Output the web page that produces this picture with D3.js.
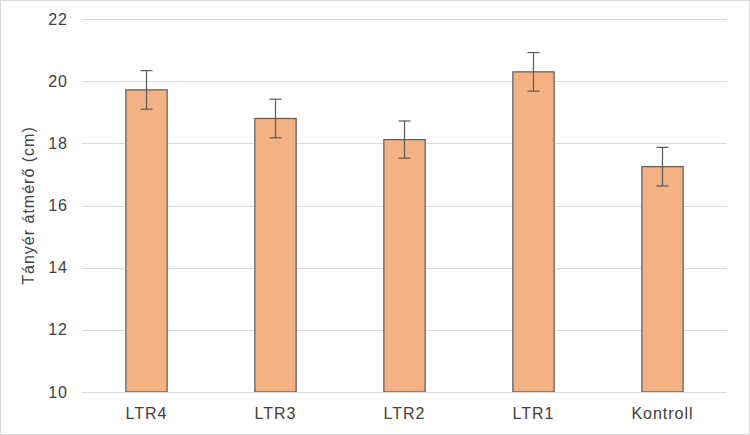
<!DOCTYPE html>
<html><head><meta charset="utf-8">
<script src="https://cdn.jsdelivr.net/npm/d3@7"></script>
<style>body{margin:0;background:#fff;}svg{display:block;font-family:"Liberation Sans",Arial,sans-serif;}</style>
</head><body>
<svg id="c" width="750" height="435"></svg>
<script>
const categories = ["LTR4", "LTR3", "LTR2", "LTR1", "Kontroll"];
const values = [19.72, 18.80, 18.12, 20.30, 17.25];
const errors = [0.62, 0.62, 0.60, 0.62, 0.62];
const yTicks = [10, 12, 14, 16, 18, 20, 22];
const yLabel = "Tányér átmérő (cm)";

const svg = d3.select("#c");
svg.append("rect").attr("x",0.5).attr("y",0.5).attr("width",749).attr("height",434)
  .attr("fill","#fff").attr("stroke","#d9d9d9");
const m = {l:82, r:23, t:19, b:43};
const W = 750, H = 435;
const x = d3.scaleBand().domain(categories).range([m.l, W-m.r]).paddingInner(0.68).paddingOuter(0.34);
const y = d3.scaleLinear().domain([10,22]).range([H-m.b, m.t]);

const g = svg.append("g");
g.selectAll(".grid").data(yTicks).join("line")
  .attr("x1",m.l).attr("x2",W-m.r)
  .attr("y1",d=>Math.round(y(d))+0.5).attr("y2",d=>Math.round(y(d))+0.5)
  .attr("stroke","#d9d9d9").attr("stroke-width",1);

const yAxis = svg.append("g").attr("transform",`translate(${m.l},0)`)
  .call(d3.axisLeft(y).tickValues(yTicks).tickSize(0).tickPadding(14));
yAxis.select(".domain").remove();
yAxis.selectAll("text").attr("font-size",16).attr("fill","#404040").style("letter-spacing","1px")
  .style("font-family","Liberation Sans, Arial, sans-serif");

g.selectAll(".bar").data(values).join("rect")
  .attr("x",(d,i)=>x(categories[i]))
  .attr("width",x.bandwidth())
  .attr("y",d=>y(d))
  .attr("height",d=>y(10)-y(d))
  .attr("fill","#F4B183").attr("stroke","#595959").attr("stroke-width",1.2);

const eb = g.selectAll(".eb").data(values).join("g")
  .attr("transform",(d,i)=>`translate(${x(categories[i])+x.bandwidth()/2},0)`);
eb.append("line").attr("y1",(d,i)=>y(d+errors[i])).attr("y2",(d,i)=>y(d-errors[i]))
  .attr("stroke","#595959").attr("stroke-width",1.2);
eb.append("line").attr("x1",-6).attr("x2",6).attr("y1",(d,i)=>y(d+errors[i])).attr("y2",(d,i)=>y(d+errors[i]))
  .attr("stroke","#595959").attr("stroke-width",1.2);
eb.append("line").attr("x1",-6).attr("x2",6).attr("y1",(d,i)=>y(d-errors[i])).attr("y2",(d,i)=>y(d-errors[i]))
  .attr("stroke","#595959").attr("stroke-width",1.2);

g.append("line").attr("x1",m.l).attr("x2",W-m.r).attr("y1",Math.round(y(10))+0.5).attr("y2",Math.round(y(10))+0.5)
  .attr("stroke","#d9d9d9");

const xAxis = svg.append("g").attr("transform",`translate(0,${y(10)})`)
  .call(d3.axisBottom(x).tickSize(0).tickPadding(16));
xAxis.select(".domain").remove();
xAxis.selectAll("text").attr("font-size",16).attr("fill","#404040").style("letter-spacing","1px")
  .style("font-family","Liberation Sans, Arial, sans-serif");

svg.append("text").attr("transform",`translate(34,${(m.t+H-m.b)/2}) rotate(-90)`)
  .attr("text-anchor","middle").attr("font-size",16).attr("fill","#404040").style("letter-spacing","1px").text(yLabel);
</script>
</body></html>
